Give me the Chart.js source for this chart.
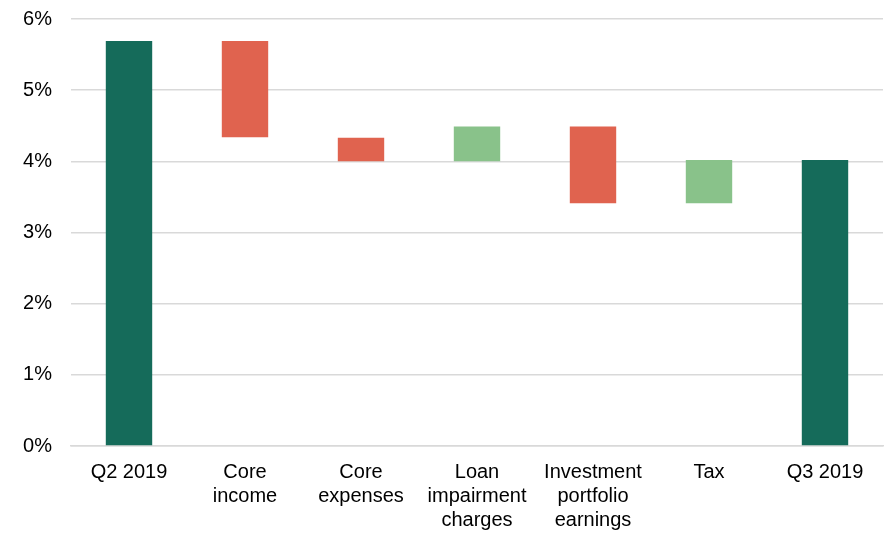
<!DOCTYPE html>
<html>
<head>
<meta charset="utf-8">
<script src="https://cdn.jsdelivr.net/npm/chart.js@4"></script>
<style>
  html, body { margin: 0; padding: 0; background: #ffffff; }
  #wrap { width: 887px; height: 534px; position: relative; }
</style>
</head>
<body>
<div id="wrap"><canvas id="c" width="887" height="534"></canvas></div>
<script>
const categories = [
  ["Q2 2019"],
  ["Core", "income"],
  ["Core", "expenses"],
  ["Loan", "impairment", "charges"],
  ["Investment", "portfolio", "earnings"],
  ["Tax"],
  ["Q3 2019"]
];
// floating bar ranges [low, high] in percent
const barLow  = [0,    4.34, 4.00, 4.00, 3.41, 3.41, 0];
const barHigh = [5.69, 5.69, 4.33, 4.49, 4.49, 4.02, 4.02];
const barKind = ["total", "down", "down", "up", "down", "up", "total"];
const yTicks = [0, 1, 2, 3, 4, 5, 6];

const kindColor = { total: "#156b5a", down: "#e0634f", up: "#89c28a" };

const data = {
  labels: categories,
  datasets: [{
    data: barLow.map((lo, i) => [lo, barHigh[i]]),
    backgroundColor: barKind.map(k => kindColor[k]),
    borderWidth: 0,
    barPercentage: 0.4,
    categoryPercentage: 1.0
  }]
};

new Chart(document.getElementById("c"), {
  type: "bar",
  data,
  options: {
    responsive: false,
    animation: false,
    layout: { padding: { top: 19, right: 4, left: 0, bottom: 0 } },
    plugins: { legend: { display: false }, tooltip: { enabled: false } },
    scales: {
      x: {
        grid: { display: false, drawTicks: false },
        border: { display: true, color: "#d9d9d9", width: 1.5 },
        ticks: {
          color: "#000000",
          font: { family: "Liberation Sans, Arial, sans-serif", size: 20, lineHeight: 1.2 },
          padding: 14,
          maxRotation: 0,
          autoSkip: false
        },
        afterFit(scale) { scale.height = 88; scale.paddingLeft = 0; scale.paddingRight = 0; }
      },
      y: {
        min: 0,
        max: 6,
        afterBuildTicks(scale) { scale.ticks = yTicks.map(v => ({ value: v })); },
        grid: { color: "#d9d9d9", lineWidth: 1.5, drawTicks: false },
        border: { display: false },
        ticks: {
          color: "#000000",
          font: { family: "Liberation Sans, Arial, sans-serif", size: 20 },
          padding: 19,
          callback: v => v + "%"
        },
        afterFit(scale) { scale.width = 71; scale.paddingTop = 0; scale.paddingBottom = 0; }
      }
    }
  }
});
</script>
</body>
</html>
